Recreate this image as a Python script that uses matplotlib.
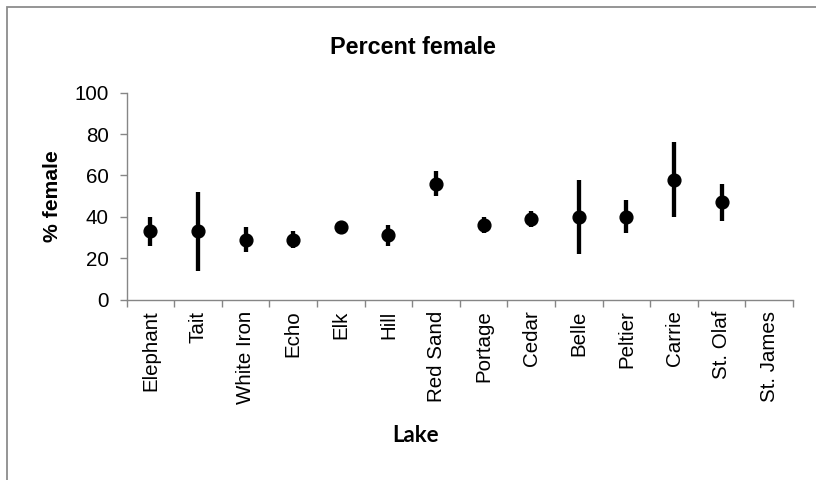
import numpy as np
import matplotlib
matplotlib.use("Agg")
import matplotlib.pyplot as plt
from matplotlib.patches import Rectangle
from matplotlib.ticker import FixedLocator, NullFormatter

lakes = ["Elephant", "Tait", "White Iron", "Echo", "Elk", "Hill", "Red Sand",
         "Portage", "Cedar", "Belle", "Peltier", "Carrie", "St. Olaf", "St. James"]
pct_female = [33, 33, 29, 29, 35, 31, 56, 36, 39, 40, 40, 58, 47, np.nan]
ci_half = [7, 19, 6, 4, 1, 5, 6, 4, 4, 18, 8, 18, 9, np.nan]
y_ticks = [0, 20, 40, 60, 80, 100]

W, H, DPI = 816, 480, 100
fig = plt.figure(figsize=(W / DPI, H / DPI), dpi=DPI)
plt.rcParams["font.family"] = ["Liberation Sans", "DejaVu Sans"]

axis_grey = "#868686"

# chart-area outline
fig.add_artist(Rectangle((6.7 / W, -0.2), 1.3, 1.2 - 7.3 / H,
                         transform=fig.transFigure, fill=False,
                         edgecolor="#8c8c8c", linewidth=1.3, zorder=0))

ax = fig.add_axes([126.7 / W, 1 - 299.5 / H, (793 - 126.7) / W, (299.5 - 92.7) / H])
x = np.arange(len(lakes))
ax.errorbar(x, pct_female, yerr=ci_half, fmt="o", color="black",
            markersize=9.2, elinewidth=3.1, capsize=0, zorder=3)

ax.set_xlim(-0.5, len(lakes) - 0.5)
ax.set_ylim(0, 100)
ax.set_yticks(y_ticks)
ax.set_xticks(x)
ax.set_xticklabels(lakes, rotation=90, fontsize=14.8)
ax.xaxis.set_minor_locator(FixedLocator(np.arange(len(lakes) + 1) - 0.5))
ax.xaxis.set_minor_formatter(NullFormatter())
ax.tick_params(axis="x", which="major", length=0, pad=8)
ax.tick_params(axis="x", which="minor", length=5, width=1, color=axis_grey, direction="out")
ax.tick_params(axis="y", length=5, width=1, color=axis_grey, direction="out",
               labelsize=14.8, pad=8)

for s in ["top", "right"]:
    ax.spines[s].set_visible(False)
for s in ["left", "bottom"]:
    ax.spines[s].set_color(axis_grey)
    ax.spines[s].set_linewidth(1.0)

fig.text(413 / W, 1 - 47 / H, "Percent female", ha="center", va="center",
         fontsize=16.8, fontweight="bold")
fig.text(53 / W, 1 - 196 / H, "% female", ha="center", va="center",
         rotation=90, fontsize=15.2, fontweight="bold")
fig.text(416 / W, 1 - 436 / H, "Lake", ha="center", va="center",
         fontsize=16, fontweight="bold", family=["Lato", "DejaVu Sans"])

fig.savefig("out.png", dpi=DPI)
